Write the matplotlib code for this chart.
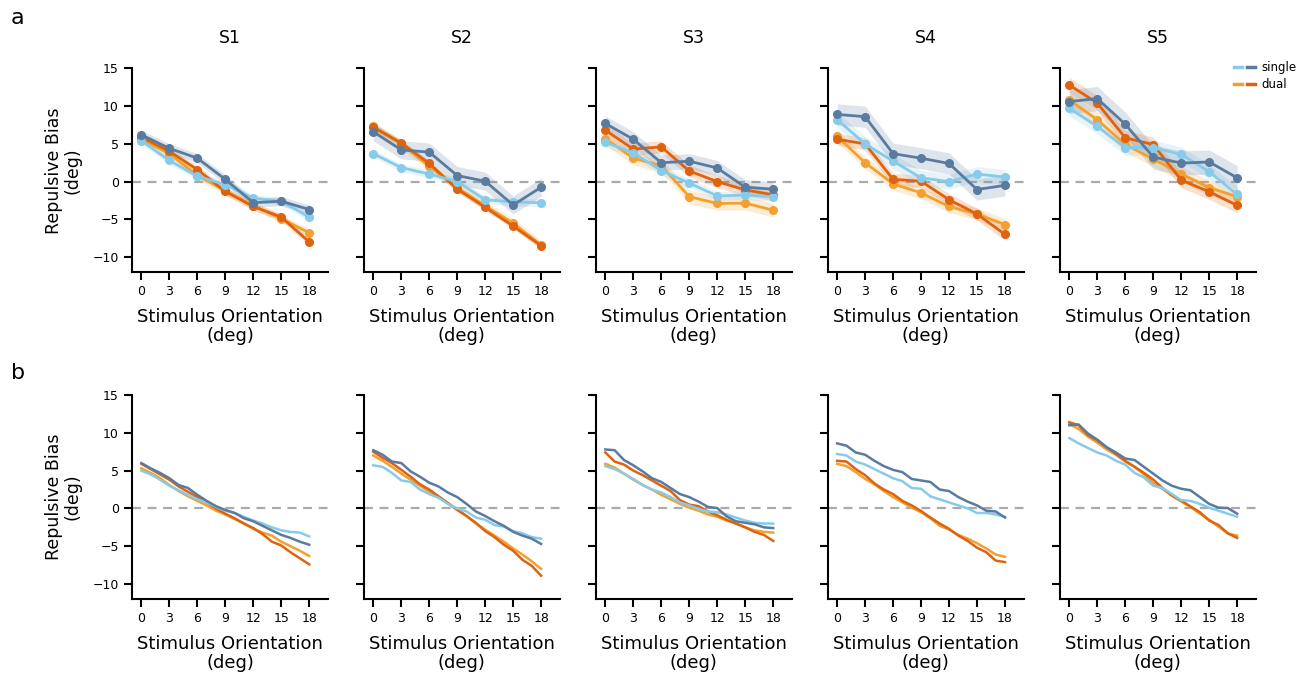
"""
Repulsive bias per subject: measured (a) and model (b)
"""
import numpy as np
import matplotlib
matplotlib.use('Agg')
import matplotlib.pyplot as plt
from matplotlib.legend_handler import HandlerTuple
from matplotlib.lines import Line2D

plt.rcParams['font.family'] = ['DejaVu Sans']

SUBJECTS = ['S1', 'S2', 'S3', 'S4', 'S5']
X_TOP = [0, 3, 6, 9, 12, 15, 18]
X_BOT = list(range(19))
XTICKS = [0, 3, 6, 9, 12, 15, 18]
YTICKS = [-10, -5, 0, 5, 10, 15]

C_SINGLE_LIGHT = '#86CBEA'
C_SINGLE_DARK = '#5A7BA0'
C_DUAL_LIGHT = '#F2A030'
C_DUAL_DARK = '#DF630F'

# --- row a: measured bias, one list per subject ---
TOP_SINGLE_LIGHT = [
    [5.4, 2.8, 0.7, -0.4, -2.2, -2.6, -4.7],
    [3.7, 1.85, 1.0, 0.0, -2.4, -2.7, -2.8],
    [5.2, 3.8, 1.45, -0.2, -1.9, -1.8, -2.0],
    [8.2, 5.0, 2.7, 0.5, 0.0, 1.0, 0.6],
    [9.7, 7.3, 4.5, 4.5, 3.6, 1.3, -1.7],
]
TOP_SINGLE_DARK = [
    [6.2, 4.4, 3.1, 0.3, -2.8, -2.6, -3.7],
    [6.6, 4.2, 3.9, 0.8, 0.05, -3.1, -0.75],
    [7.7, 5.6, 2.5, 2.7, 1.8, -0.75, -1.0],
    [8.9, 8.6, 3.7, 3.1, 2.4, -1.05, -0.5],
    [10.6, 11.0, 7.6, 3.25, 2.45, 2.6, 0.5],
]
TOP_DUAL_LIGHT = [
    [5.6, 3.7, 0.8, -1.2, -3.2, -4.9, -6.8],
    [7.3, 5.0, 2.0, -0.8, -3.2, -5.5, -8.4],
    [5.7, 3.1, 2.1, -2.0, -2.9, -2.85, -3.8],
    [6.0, 2.5, -0.3, -1.5, -3.3, -4.3, -5.7],
    [10.8, 8.2, 4.9, 3.0, 1.0, -0.8, -2.0],
]
TOP_DUAL_DARK = [
    [5.9, 4.0, 1.6, -1.3, -3.3, -4.7, -8.0],
    [7.2, 5.1, 2.4, -1.0, -3.4, -5.9, -8.5],
    [6.8, 4.3, 4.6, 1.4, 0.0, -1.1, -1.75],
    [5.6, 5.0, 0.3, 0.05, -2.4, -4.3, -7.0],
    [12.8, 10.4, 5.8, 4.9, 0.2, -1.35, -3.15],
]
# SEM per subject: single light, single dark, dual light, dual dark
TOP_SEM = [
    [0.5, 0.6, 0.5, 0.5],
    [0.5, 1.2, 0.6, 0.4],
    [0.6, 1.0, 0.9, 0.8],
    [1.0, 1.4, 0.8, 0.8],
    [1.0, 1.6, 1.0, 1.0],
]

# --- row b: model bias ---
BOT_SINGLE_LIGHT = [
    [5.0, 4.5, 3.8, 3.0, 2.4, 1.8, 1.2, 0.8, 0.2, -0.3, -0.6, -1.1, -1.6, -2.0, -2.5, -2.9, -3.1, -3.2, -3.7],
    [5.7, 5.5, 4.7, 3.7, 3.5, 2.5, 1.9, 1.4, 0.6, 0.0, -0.4, -1.2, -1.5, -2.2, -2.4, -3.0, -3.3, -3.8, -4.0],
    [5.6, 5.2, 4.6, 3.9, 3.1, 2.5, 2.1, 1.5, 0.8, 0.4, -0.1, -0.4, -0.5, -0.8, -1.2, -1.6, -1.9, -2.0, -2.0],
    [7.2, 7.0, 6.2, 5.8, 5.2, 4.6, 4.0, 3.6, 2.7, 2.6, 1.6, 1.2, 0.8, 0.4, 0.0, -0.6, -0.6, -0.8, -1.1],
    [9.3, 8.6, 8.0, 7.4, 7.0, 6.3, 5.8, 4.7, 4.1, 3.0, 2.7, 1.9, 1.1, 1.0, 0.6, 0.1, -0.3, -0.7, -1.1],
]
BOT_SINGLE_DARK = [
    [6.0, 5.3, 4.7, 4.0, 3.1, 2.7, 1.8, 1.0, 0.3, -0.2, -0.6, -1.3, -1.7, -2.3, -2.9, -3.5, -3.9, -4.4, -4.8],
    [7.7, 7.1, 6.2, 6.0, 4.9, 4.2, 3.4, 2.9, 2.1, 1.5, 0.6, -0.4, -1.0, -1.7, -2.3, -3.1, -3.6, -4.0, -4.7],
    [7.8, 7.7, 6.4, 5.7, 4.9, 4.0, 3.5, 2.7, 1.9, 1.5, 0.9, 0.2, 0.05, -1.05, -1.7, -1.9, -2.1, -2.5, -2.6],
    [8.6, 8.3, 7.4, 7.1, 6.3, 5.6, 5.1, 4.8, 3.9, 3.7, 3.5, 2.5, 2.3, 1.5, 0.9, 0.4, -0.3, -0.4, -1.2],
    [11.0, 11.1, 9.9, 9.1, 8.1, 7.4, 6.6, 6.4, 5.5, 4.6, 3.7, 3.0, 2.6, 2.4, 1.5, 0.6, 0.1, 0.05, -0.7],
]
BOT_DUAL_LIGHT = [
    [5.3, 4.7, 4.0, 3.1, 2.3, 1.6, 1.0, 0.4, -0.3, -0.8, -1.4, -2.0, -2.7, -3.2, -3.6, -4.4, -5.0, -5.6, -6.3],
    [7.0, 6.3, 5.5, 4.6, 3.8, 3.0, 2.2, 1.5, 0.7, -0.1, -1.0, -2.0, -2.8, -3.6, -4.4, -5.3, -6.1, -7.0, -8.0],
    [5.9, 5.4, 4.6, 3.8, 3.1, 2.5, 1.8, 1.2, 0.6, 0.1, -0.3, -0.8, -1.1, -1.6, -2.0, -2.5, -2.9, -3.1, -3.2],
    [5.9, 5.6, 4.8, 3.9, 3.2, 2.3, 1.5, 0.8, 0.1, -0.5, -1.3, -2.3, -2.8, -3.5, -4.0, -4.6, -5.3, -6.1, -6.4],
    [11.2, 10.5, 9.5, 8.7, 7.8, 7.1, 6.2, 5.5, 4.5, 3.3, 2.6, 1.7, 0.9, 0.2, -0.7, -1.5, -2.4, -3.3, -3.6],
]
BOT_DUAL_DARK = [
    [5.9, 5.2, 4.5, 3.8, 2.9, 2.2, 1.5, 0.8, 0.0, -0.7, -1.3, -2.0, -2.6, -3.4, -4.4, -4.9, -5.8, -6.6, -7.4],
    [7.5, 6.7, 6.0, 5.1, 4.2, 3.2, 2.5, 1.6, 0.7, -0.2, -1.0, -1.9, -3.0, -3.8, -4.8, -5.6, -6.8, -7.6, -8.9],
    [7.4, 6.2, 5.8, 5.0, 4.4, 3.7, 3.0, 2.3, 1.1, 0.5, 0.3, -0.4, -0.9, -1.5, -2.0, -2.5, -3.1, -3.5, -4.3],
    [6.3, 6.2, 5.2, 4.4, 3.3, 2.5, 1.9, 1.0, 0.4, -0.35, -1.2, -2.0, -2.7, -3.6, -4.3, -5.2, -5.8, -6.9, -7.1],
    [11.4, 11.0, 9.7, 9.0, 8.1, 7.2, 6.3, 5.5, 4.7, 3.8, 2.7, 1.7, 1.05, 0.25, -0.5, -1.6, -2.2, -3.3, -3.9],
]

COLORS = [C_SINGLE_LIGHT, C_SINGLE_DARK, C_DUAL_LIGHT, C_DUAL_DARK]

fig = plt.figure(figsize=(13.14, 6.77), dpi=100)

LEFTS = [0.1005, 0.2770, 0.4536, 0.6300, 0.8067]
WIDTH = 0.149
ROWS = [(0.598, 0.301), (0.115, 0.3015)]


def style_axis(ax, first):
    ax.axhline(0, color='#aaaaaa', ls=(0, (4, 3)), lw=1.6, zorder=0)
    ax.set_xlim(-1, 20)
    ax.set_ylim(-12, 15)
    ax.set_xticks(XTICKS)
    ax.set_yticks(YTICKS)
    ax.tick_params(labelsize=9, length=6, width=1.5)
    for s in ['top', 'right']:
        ax.spines[s].set_visible(False)
    for s in ['left', 'bottom']:
        ax.spines[s].set_linewidth(1.5)
    ax.set_xlabel('Stimulus Orientation\n(deg)', fontsize=13, labelpad=7, linespacing=1.05)
    if first:
        ax.set_ylabel('Repulsive Bias\n(deg)', fontsize=12.5, labelpad=8, linespacing=1.05)
    else:
        ax.set_yticklabels([])


top_series = [TOP_SINGLE_LIGHT, TOP_SINGLE_DARK, TOP_DUAL_LIGHT, TOP_DUAL_DARK]
bot_series = [BOT_SINGLE_LIGHT, BOT_SINGLE_DARK, BOT_DUAL_LIGHT, BOT_DUAL_DARK]
draw_order = [2, 3, 0, 1]

for i, subj in enumerate(SUBJECTS):
    # row a
    ax = fig.add_axes([LEFTS[i], ROWS[0][0], WIDTH, ROWS[0][1]])
    for k in draw_order:
        y = np.array(top_series[k][i])
        sem = TOP_SEM[i][k]
        ax.fill_between(X_TOP, y - sem, y + sem, color=COLORS[k], alpha=0.2, lw=0)
        ax.plot(X_TOP, y, '-o', color=COLORS[k], lw=2, ms=5.5)
    style_axis(ax, i == 0)
    ax.set_title(subj, fontsize=12.5, pad=18)
    if i == 4:
        h_single = (Line2D([], [], color=C_SINGLE_LIGHT, lw=2.5), Line2D([], [], color=C_SINGLE_DARK, lw=2.5))
        h_dual = (Line2D([], [], color=C_DUAL_LIGHT, lw=2.5), Line2D([], [], color=C_DUAL_DARK, lw=2.5))
        ax.legend([h_single, h_dual], ['single', 'dual'],
                  handler_map={tuple: HandlerTuple(ndivide=None, pad=0.4)},
                  loc='upper right', bbox_to_anchor=(1.26, 1.09), frameon=False,
                  fontsize=8.5, handlelength=1.8, handletextpad=0.5, labelspacing=0.35)

    # row b
    ax = fig.add_axes([LEFTS[i], ROWS[1][0], WIDTH, ROWS[1][1]])
    for k in draw_order:
        ax.plot(X_BOT, bot_series[k][i], '-', color=COLORS[k], lw=1.8)
    style_axis(ax, i == 0)

fig.text(0.008, 0.965, 'a', fontsize=16)
fig.text(0.008, 0.44, 'b', fontsize=16)

plt.savefig('out.png', dpi=100)
plt.close()
